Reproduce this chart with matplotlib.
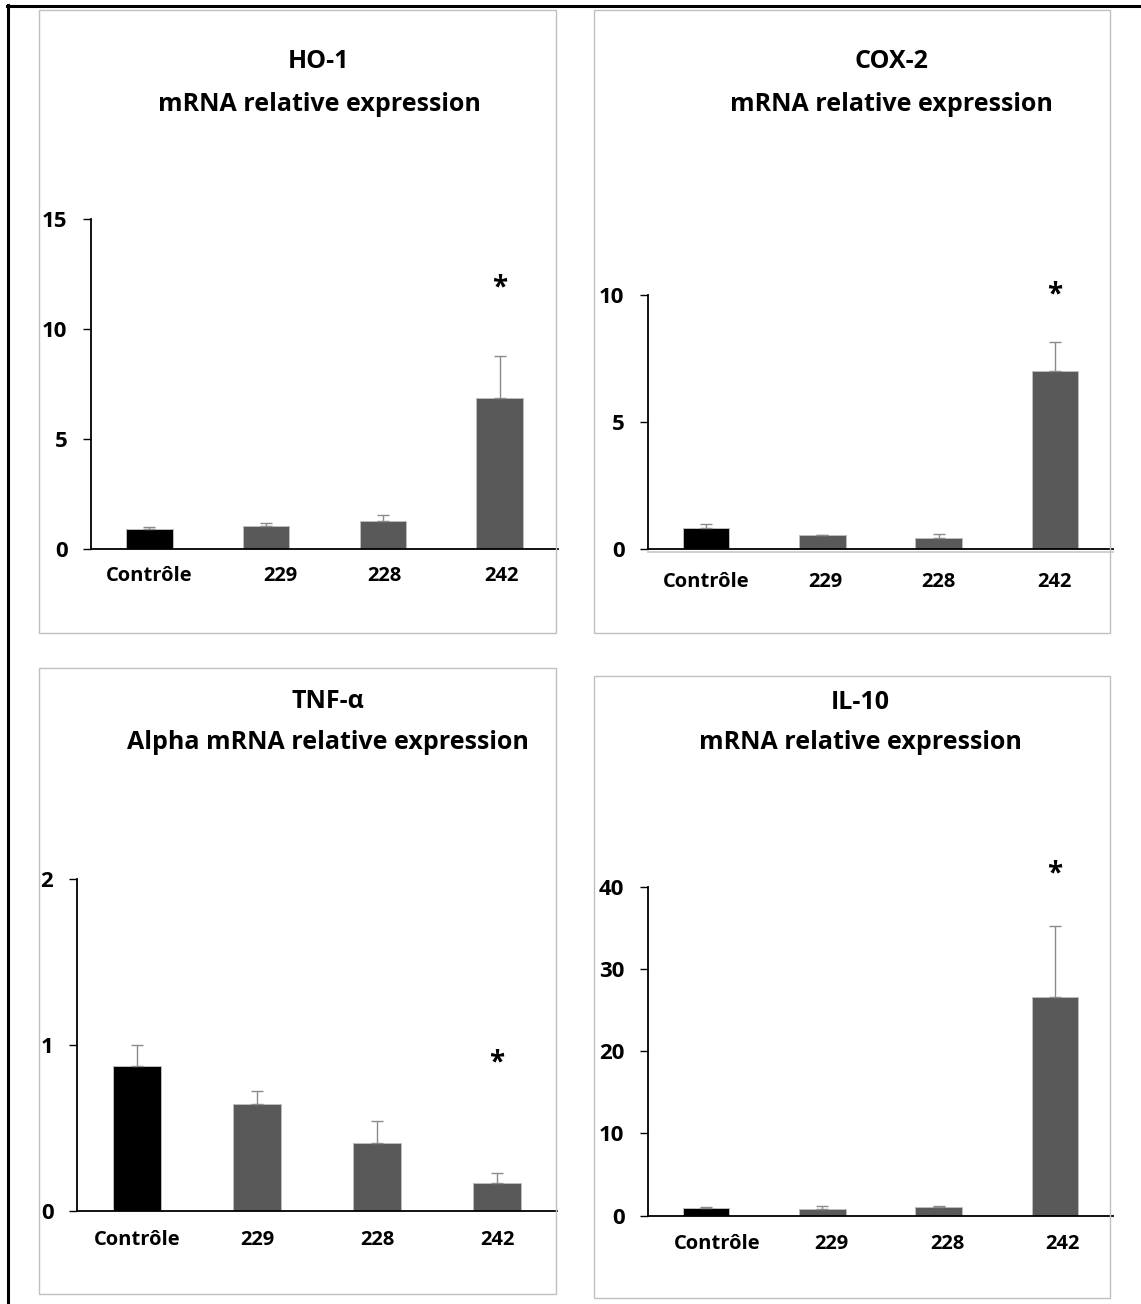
import matplotlib
matplotlib.use("Agg")
import matplotlib.pyplot as plt
from matplotlib.lines import Line2D
from matplotlib.patches import Rectangle
from matplotlib.transforms import ScaledTranslation
import matplotlib.patheffects as pe

plt.rcParams['font.family'] = ['Open Sans', 'DejaVu Sans']
plt.rcParams['font.weight'] = 'bold'

# ---------------- data ----------------
categories = ['Contrôle', '229', '228', '242']

ho1_values = [0.92, 1.04, 1.27, 6.87]
ho1_errors = [0.07, 0.15, 0.27, 1.91]
ho1_ticks = [0, 5, 10, 15]
ho1_star = 12.1

cox2_values = [0.83, 0.56, 0.44, 6.99]
cox2_errors = [0.16, 0.01, 0.17, 1.16]
cox2_ticks = [0, 5, 10]
cox2_star = 10.2

tnf_values = [0.872, 0.644, 0.409, 0.168]
tnf_errors = [0.130, 0.076, 0.131, 0.063]
tnf_ticks = [0, 1, 2]
tnf_star = 0.92

il10_values = [0.90, 0.78, 0.98, 26.6]
il10_errors = [0.12, 0.37, 0.17, 8.7]
il10_ticks = [0, 10, 20, 30, 40]
il10_star = 42.2

titles = [("HO-1", "mRNA relative expression"),
          ("COX-2", "mRNA relative expression"),
          ("TNF-α", "Alpha mRNA relative expression"),
          ("IL-10", "mRNA relative expression")]

# ---------------- layout (pixels) ----------------
W, H = 1141, 1304
DPI = 100
fig = plt.figure(figsize=(W / DPI, H / DPI), dpi=DPI)
fig.patch.set_facecolor('white')


def fx(x):
    return x / W


def fy(y):
    return 1 - y / H


# outer black frame (left and top visible)
fig.add_artist(Line2D([fx(7.5), fx(7.5)], [fy(5), fy(H)], color='black', lw=2.2))
fig.add_artist(Line2D([fx(6.5), fx(W)], [fy(6), fy(6)], color='black', lw=2.2))

# panel boxes: (x0, y0, x1, y1)
boxes = [(38.5, 9.5, 556, 633), (594, 9.5, 1110, 633),
         (38.5, 668, 556, 1294), (594, 676, 1110, 1298)]
for (x0, y0, x1, y1) in boxes:
    fig.add_artist(Rectangle((fx(x0), fy(y1)), fx(x1) - fx(x0), fy(y0) - fy(y1),
                             fill=False, edgecolor='#c0c0c0', lw=1.0))

# axes rects: (x_left, x_right, y_top_px, y_bottom_px)
axes_px = [(91, 558, 219, 549), (648, 1113, 295, 549),
           (77, 557, 879, 1211), (648, 1113, 887, 1215.5)]

panels = [
    (ho1_values, ho1_errors, ho1_ticks, ho1_star, [0, 14, 2, 2], 41),
    (cox2_values, cox2_errors, cox2_ticks, cox2_star, [0, 3, 0, 0], 47),
    (tnf_values, tnf_errors, tnf_ticks, tnf_star, [0, 0, 0, 0], 43),
    (il10_values, il10_errors, il10_ticks, il10_star, [11, 9, 9, 8], 42),
]

# title positions (center x, baseline y line1, baseline y line2)
title_pos = [(319, 68, 111), (891, 68, 111), (328, 708, 749), (860, 709, 749)]

bar_colors = ['black', '#595959', '#595959', '#595959']

for i, ((vals, errs, ticks, star, lab_dx, lab_pad_px), (xl, xr, yt, yb)) in enumerate(zip(panels, axes_px)):
    ax = fig.add_axes([fx(xl), fy(yb), fx(xr) - fx(xl), fy(yt) - fy(yb)])
    ax.set_facecolor('none')
    x = list(range(len(categories)))
    ax.bar(x, vals, width=0.40, color=bar_colors, edgecolor='#bdbdbd', linewidth=0.7, zorder=2)
    ax.errorbar(x, vals, yerr=[[0] * len(errs), errs], fmt='none', ecolor='#8a8a8a',
                elinewidth=1.0, capsize=4, capthick=1.0, zorder=3)
    ax.annotate('*', xy=(3, star), xytext=(0, -9), textcoords='offset points',
                ha='center', va='baseline', fontsize=20, fontweight='bold',
                annotation_clip=False)
    ax.set_xlim(-0.5, 3.5)
    ax.set_ylim(ticks[0], ticks[-1])
    ax.set_yticks(ticks)
    ax.set_yticklabels([str(t) for t in ticks], fontsize=16, fontweight='bold')
    ax.set_xticks(x)
    ax.set_xticklabels(categories, fontsize=14.5, fontweight='bold')
    ax.tick_params(axis='x', length=0, pad=lab_pad_px * 72 / DPI - 17)
    ax.tick_params(axis='y', length=6, width=1.0, direction='out', pad=11, color='black')
    for s in ['top', 'right']:
        ax.spines[s].set_visible(False)
    ax.spines['left'].set_linewidth(1.3)
    ax.spines['bottom'].set_linewidth(1.3)
    ax.spines['left'].set_color('black')
    ax.spines['bottom'].set_color('black')
    if i == 1:
        ax.spines['bottom'].set_path_effects(
            [pe.SimpleLineShadow(offset=(0, -2), shadow_color='#9a9a9a', alpha=0.5), pe.Normal()])
    for lab, dx in zip(ax.get_xticklabels(), lab_dx):
        lab.set_transform(lab.get_transform() + ScaledTranslation(dx / DPI, 0, fig.dpi_scale_trans))

    cx, b1, b2 = title_pos[i]
    fig.text(fx(cx), fy(b1), titles[i][0], ha='center', va='baseline', fontsize=18, fontweight='bold')
    fig.text(fx(cx), fy(b2), titles[i][1], ha='center', va='baseline', fontsize=18, fontweight='bold')

fig.savefig('out.png', dpi=DPI, facecolor='white')
